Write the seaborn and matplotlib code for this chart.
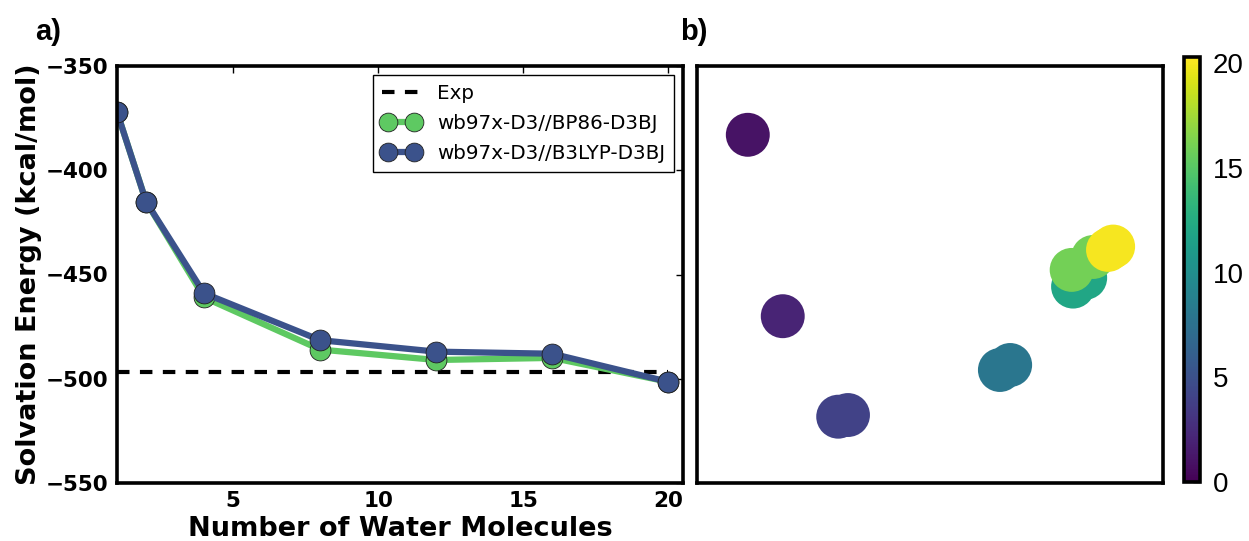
import numpy as np
import pandas as pd
import matplotlib
matplotlib.use("Agg")
import matplotlib.pyplot as plt
import seaborn as sns

# ---- data ----
n_water = [1, 2, 4, 8, 12, 16, 20]
e_bp86 = [-372, -415, -461, -486, -491, -490, -501.5]
e_b3lyp = [-372, -415, -459, -481.5, -487, -488, -501.5]
e_exp = -496.8

# panel b: embedding coordinates (arbitrary units) coloured by water count
emb_x = [0.109, 0.184, 0.303, 0.324, 0.650, 0.672, 0.807, 0.833, 0.804, 0.850, 0.882, 0.893]
emb_y = [0.835, 0.400, 0.159, 0.163, 0.271, 0.283, 0.471, 0.492, 0.511, 0.542, 0.559, 0.567]
emb_n = [1, 2, 4, 4, 8, 8, 12, 12, 16, 16, 20, 20]

sns.set_style("white")
plt.rcParams['font.family'] = ['DejaVu Sans']
plt.rcParams['text.color'] = 'black'
plt.rcParams['axes.labelcolor'] = 'black'
plt.rcParams['xtick.color'] = 'black'
plt.rcParams['ytick.color'] = 'black'
plt.rcParams['xtick.direction'] = 'in'
plt.rcParams['ytick.direction'] = 'in'

W, H = 1249, 541
fig = plt.figure(figsize=(W / 100, H / 100), dpi=100)

def box(x0, y0, x1, y1):
    return [x0 / W, 1 - y1 / H, (x1 - x0) / W, (y1 - y0) / H]

ax1 = fig.add_axes(box(117, 66, 683, 483))
ax2 = fig.add_axes(box(697, 66, 1163, 483))
cax = fig.add_axes(box(1184, 57, 1200, 482))

green = "#5ec962"
blue = "#3b528b"

df = pd.DataFrame({"n": n_water * 2,
                   "E": e_bp86 + e_b3lyp,
                   "method": ["wb97x-D3//BP86-D3BJ"] * 7 + ["wb97x-D3//B3LYP-D3BJ"] * 7})

ax1.hlines(e_exp, n_water[0], n_water[-1], colors="black", linestyles=(0, (3, 2.5)),
           linewidth=3, label="Exp", zorder=1)
sns.lineplot(data=df, x="n", y="E", hue="method",
             palette={"wb97x-D3//BP86-D3BJ": green, "wb97x-D3//B3LYP-D3BJ": blue},
             marker="o", markersize=15, linewidth=4.5, markeredgecolor="#202020",
             markeredgewidth=0.6, ax=ax1, zorder=2)

ax1.set_xlim(1, 20.5)
ax1.set_ylim(-550, -350)
ax1.set_xticks([5, 10, 15, 20])
ax1.set_yticks([-350, -400, -450, -500, -550])
ax1.tick_params(axis="both", which="both", top=True, right=True, length=5, width=1,
                labelsize=15.5, pad=6)
for lab in ax1.get_xticklabels() + ax1.get_yticklabels():
    lab.set_fontweight("bold")
for s in ax1.spines.values():
    s.set_linewidth(2.6)
    s.set_color("black")
ax1.set_xlabel("Number of Water Molecules", fontsize=19.5, fontweight="bold", labelpad=3)
ax1.set_ylabel("Solvation Energy (kcal/mol)", fontsize=19.5, fontweight="bold", labelpad=3)

handles, labels = ax1.get_legend_handles_labels()
leg = ax1.legend(handles, labels, loc="upper right", numpoints=2, fontsize=14.3,
                 frameon=True, fancybox=False, edgecolor="black", framealpha=1,
                 borderaxespad=0.45, handlelength=1.9, handletextpad=0.85,
                 labelspacing=0.55, borderpad=0.45, markerscale=0.9)
leg.get_frame().set_linewidth(1)

# panel b
dfb = pd.DataFrame({"x": emb_x, "y": emb_y, "n": emb_n})
norm = plt.Normalize(0, 20.3)
sns.scatterplot(data=dfb, x="x", y="y", hue="n", palette="viridis", hue_norm=norm,
                s=1000, linewidth=0, legend=False, ax=ax2)
ax2.set_xlim(0, 1)
ax2.set_ylim(0, 1)
ax2.set_xticks([])
ax2.set_yticks([])
ax2.set_xlabel("")
ax2.set_ylabel("")
for s in ax2.spines.values():
    s.set_linewidth(2.6)
    s.set_color("black")

sm = plt.cm.ScalarMappable(cmap="viridis", norm=norm)
cb = fig.colorbar(sm, cax=cax)
cb.set_ticks([0, 5, 10, 15, 20])
cb.set_ticks([2.5, 7.5, 12.5, 17.5], minor=True)
cb.outline.set_linewidth(2.6)
cb.outline.set_edgecolor("black")
cax.tick_params(which="major", direction="in", length=5, width=1, labelsize=20, pad=9)
cax.tick_params(which="minor", direction="in", length=3, width=1)
for lab in cax.get_yticklabels():
    lab.set_fontfamily("Liberation Sans")

fig.text(35 / W, 1 - 32 / H, "a)", fontsize=21, fontweight="bold", va="center",
         family="Liberation Sans")
fig.text(680 / W, 1 - 32 / H, "b)", fontsize=21, fontweight="bold", va="center",
         family="Liberation Sans")

fig.savefig("out.png", dpi=100)
